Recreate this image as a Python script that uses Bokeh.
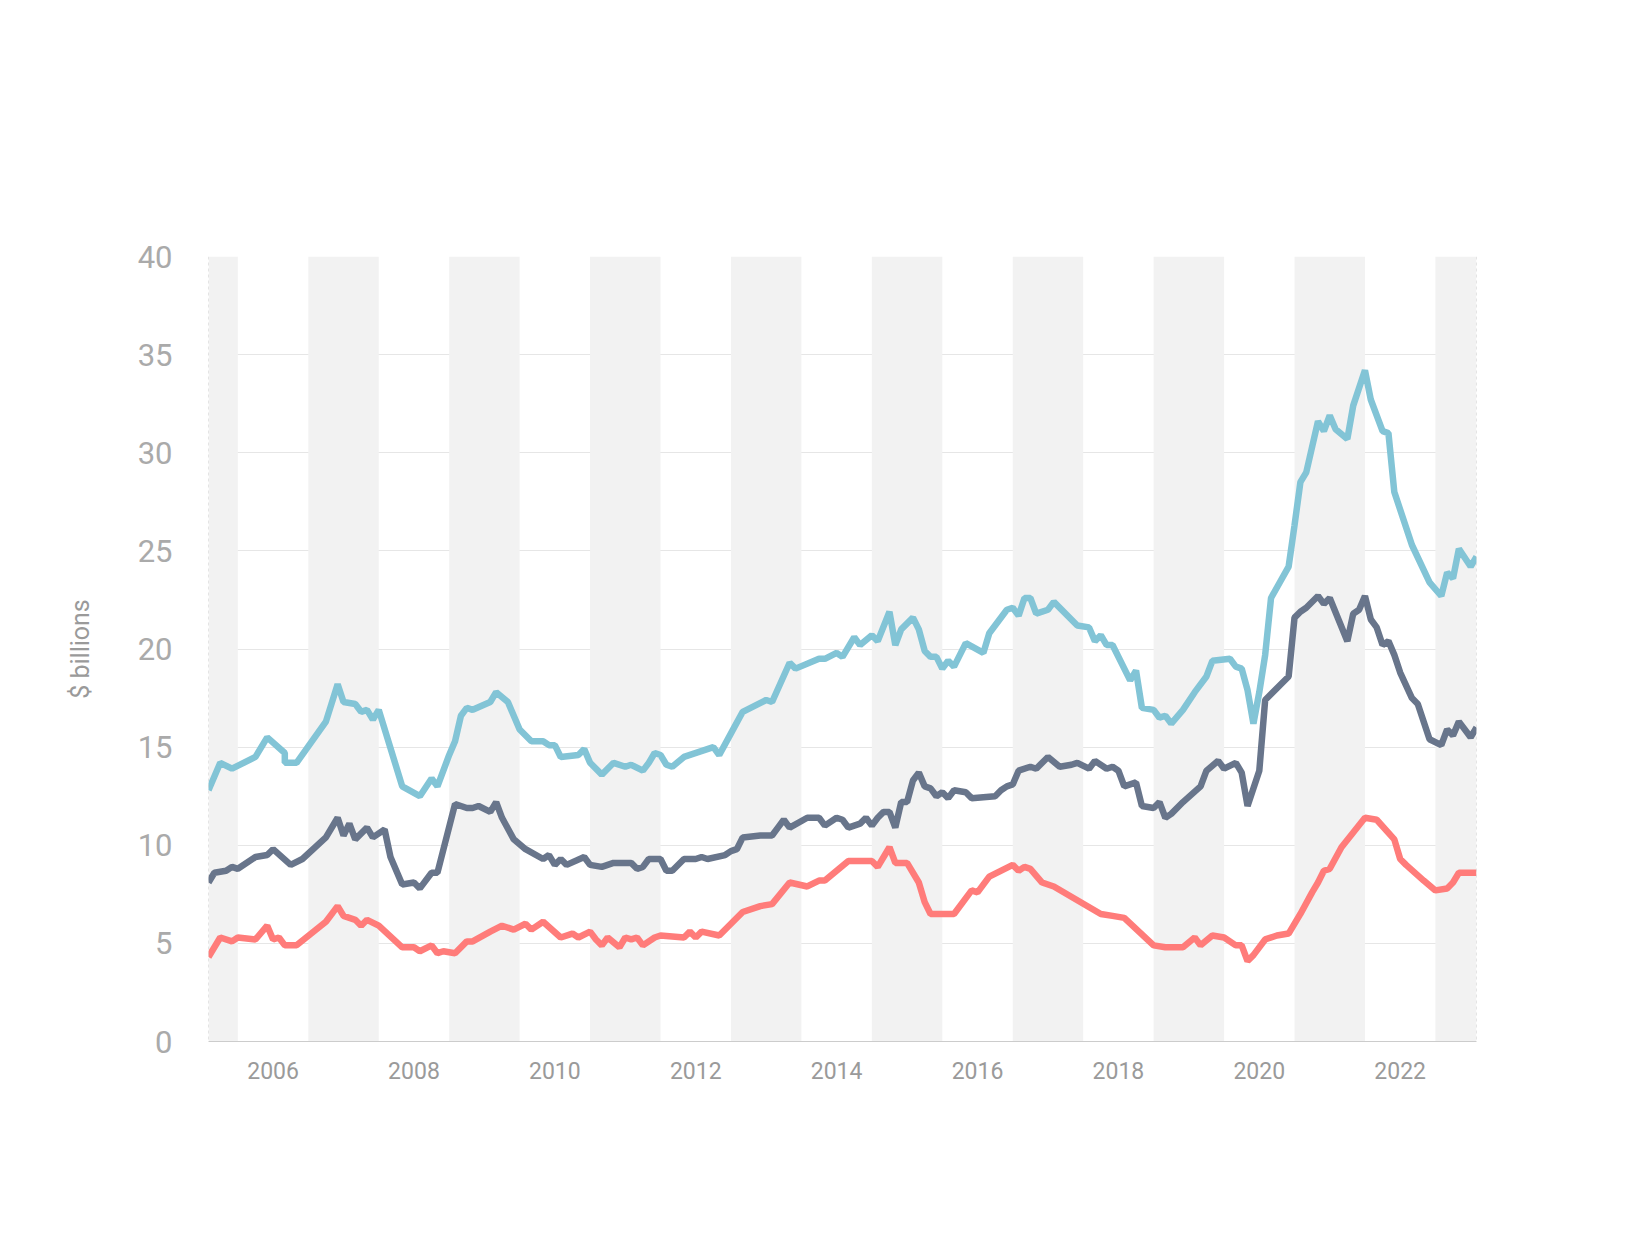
from bokeh.plotting import figure
from bokeh.models import (FixedTicker, BoxAnnotation, Span, Label, Range1d)
from bokeh.embed import file_html
from bokeh.resources import INLINE

# months since Aug 2005
total_m = [0,2,4,8,10,13,13,15,20,22,23,25,26,27,28,29,33,36,38,39,41,42,43,44,45,48,49,51,53,55,57,58,59,60,63,64,65,67,69,71,72,74,75,76,77,78,79,81,86,87,89,91,95,96,99,100,104,105,107,108,110,111,113,114,116,117,118,120,121,122,123,124,125,126,127,129,132,133,136,137,138,139,140,141,143,144,148,150,151,152,153,154,157,158,159,161,162,163,164,166,168,170,171,174,175,176,177,178,179,180,181,184,185,186,187,189,190,191,192,194,195,197,198,200,201,202,205,208,210,211,212,213,215,216]
total_v = [12.8,14.2,13.9,14.5,15.5,14.7,14.2,14.2,16.3,18.2,17.3,17.2,16.8,16.9,16.4,16.9,13.0,12.5,13.4,13.0,14.6,15.3,16.6,17.0,16.9,17.3,17.8,17.3,15.9,15.3,15.3,15.1,15.1,14.5,14.6,14.9,14.2,13.6,14.2,14.0,14.1,13.8,14.2,14.7,14.6,14.1,14.0,14.5,15.0,14.6,15.7,16.8,17.4,17.3,19.3,19.0,19.5,19.5,19.8,19.6,20.6,20.2,20.7,20.4,21.9,20.2,21.0,21.6,21.0,19.9,19.6,19.6,19.0,19.4,19.1,20.3,19.8,20.8,22.0,22.1,21.7,22.6,22.6,21.8,22.0,22.4,21.2,21.1,20.4,20.7,20.2,20.2,18.4,18.9,17.0,16.9,16.5,16.6,16.2,16.9,17.8,18.6,19.4,19.5,19.1,19.0,17.9,16.2,17.8,19.7,22.6,24.2,26.3,28.5,29.0,31.6,31.1,31.9,31.2,30.7,32.4,34.2,32.7,31.1,31.0,28.0,25.3,23.4,22.7,23.9,23.6,25.1,24.2,24.7]

owner_m = [0,1,3,4,5,8,10,11,14,16,20,22,23,24,25,27,28,30,31,33,35,36,38,39,42,44,45,46,48,49,50,52,54,57,58,59,60,61,64,65,67,69,72,73,74,75,77,78,79,81,83,84,85,88,89,90,91,94,96,97,98,99,102,104,105,107,108,109,111,112,113,114,115,116,117,118,119,120,121,122,123,124,125,126,127,129,130,134,135,136,137,138,140,141,143,145,147,148,150,151,153,154,155,156,158,159,161,162,163,164,166,169,170,172,173,175,176,177,179,180,184,185,186,187,189,190,191,194,195,196,197,198,199,200,201,202,203,205,206,208,210,211,212,213,215,216]
owner_v = [8.1,8.6,8.7,8.9,8.8,9.4,9.5,9.8,9.0,9.3,10.4,11.4,10.5,11.1,10.3,10.9,10.4,10.8,9.4,8.0,8.1,7.8,8.6,8.6,12.1,11.9,11.9,12.0,11.7,12.2,11.4,10.3,9.8,9.3,9.5,9.0,9.3,9.0,9.4,9.0,8.9,9.1,9.1,8.8,8.9,9.3,9.3,8.7,8.7,9.3,9.3,9.4,9.3,9.5,9.7,9.8,10.4,10.5,10.5,10.9,11.3,10.9,11.4,11.4,11.0,11.4,11.3,10.9,11.1,11.4,11.0,11.4,11.7,11.7,10.9,12.2,12.2,13.3,13.7,13.0,12.9,12.5,12.7,12.4,12.8,12.7,12.4,12.5,12.8,13.0,13.1,13.8,14.0,13.9,14.5,14.0,14.1,14.2,13.9,14.3,13.9,14.0,13.8,13.0,13.2,12.0,11.9,12.2,11.4,11.6,12.2,13.0,13.8,14.3,13.9,14.2,13.7,12.0,13.8,17.4,18.6,21.6,21.9,22.1,22.7,22.3,22.6,20.4,21.8,22.0,22.7,21.5,21.1,20.2,20.4,19.7,18.8,17.5,17.2,15.4,15.1,15.9,15.6,16.3,15.5,16.0]

inv_m = [0,2,4,5,8,10,11,12,13,15,20,22,23,25,26,27,29,33,35,36,38,39,40,42,44,45,48,50,52,54,55,57,60,62,63,65,66,67,68,70,71,72,73,74,76,77,81,82,83,84,87,91,94,96,99,102,104,105,109,113,114,116,117,119,121,122,123,127,130,131,133,137,138,139,140,142,144,152,154,156,161,163,166,168,169,171,173,175,176,177,178,180,182,184,186,188,189,190,191,193,197,199,202,203,204,207,209,211,212,213,216]
inv_v = [4.3,5.3,5.1,5.3,5.2,5.9,5.2,5.3,4.9,4.9,6.1,6.9,6.4,6.2,5.9,6.2,5.9,4.8,4.8,4.6,4.9,4.5,4.6,4.5,5.1,5.1,5.6,5.9,5.7,6.0,5.7,6.1,5.3,5.5,5.3,5.6,5.2,4.9,5.3,4.8,5.3,5.2,5.3,4.9,5.3,5.4,5.3,5.6,5.3,5.6,5.4,6.6,6.9,7.0,8.1,7.9,8.2,8.2,9.2,9.2,8.9,9.9,9.1,9.1,8.1,7.1,6.5,6.5,7.7,7.6,8.4,9.0,8.7,8.9,8.8,8.1,7.9,6.5,6.4,6.3,4.9,4.8,4.8,5.3,4.9,5.4,5.3,4.9,4.9,4.1,4.4,5.2,5.4,5.5,6.5,7.6,8.1,8.7,8.8,9.9,11.4,11.3,10.3,9.3,9.0,8.2,7.7,7.8,8.1,8.6,8.6]

series_names = ["Total", "Owner-occupier", "Investor"]
series_colors = ["#82c4d6", "#68758b", "#ff7c7a"]
year_ticks = [2006, 2008, 2010, 2012, 2014, 2016, 2018, 2020, 2022]
y_ticks = [0, 5, 10, 15, 20, 25, 30, 35, 40]

START = 2005 + 7 / 12
def to_x(ms):
    return [START + m / 12 for m in ms]

GREY = "#6b778c"
LIGHT = "#9a9a9a"
p = figure(frame_width=1268, frame_height=785, output_backend="svg", toolbar_location=None,
           x_range=Range1d(START, START + 18), y_range=Range1d(0, 40),
           min_border_left=208, min_border_right=140, min_border_top=256, min_border_bottom=180,
           background_fill_color="white")
p.outline_line_color = None

for yr in range(2005, 2024, 2):
    p.add_layout(BoxAnnotation(left=max(yr, START), right=min(yr + 1, START + 18),
                               fill_color="#f2f2f2", fill_alpha=1, line_color=None, level="underlay"))
for xx in [START, START + 18]:
    p.add_layout(Span(location=xx, dimension="height", line_color="#cccccc", line_dash="3 3", line_width=1))

for ms, vs, c in [(total_m, total_v, series_colors[0]), (owner_m, owner_v, series_colors[1]),
                  (inv_m, inv_v, series_colors[2])]:
    p.line(to_x(ms), vs, line_color=c, line_width=6.5)

# legend (dots + labels) above the plot frame
for name, c, dx, tx in zip(series_names, series_colors, [3.30, 7.26, 13.04], [3.72, 7.66, 13.42]):
    p.add_layout(Label(x=START + dx, y=42.55, text="●", text_align="center", text_baseline="middle",
                       text_font_size="26px", text_color=c, text_font="DejaVu Sans"))
    p.add_layout(Label(x=START + tx, y=42.55, text=name, text_align="left", text_baseline="middle",
                       text_font_size="26px", text_color=GREY, text_font="Roboto"))

p.add_layout(Label(x=START - 2.18, y=50.2, text="New loan commitments, total housing (a) seasonally adjusted, values, Australia",
                   text_align="left", text_baseline="middle", text_font_size="40px", text_color=GREY,
                   text_font="Roboto"))
p.add_layout(Label(x=START + 9.0, y=-4.9, text="a.  All series exclude refinancing", text_align="center",
                   text_baseline="middle", text_font_size="25px", text_color="#8a93a3",
                   text_font="Roboto", text_font_style="italic"))
p.add_layout(Label(x=START + 9.0, y=-7.1, text="Source: ABS", text_align="center",
                   text_baseline="middle", text_font_size="24px", text_color="#8a93a3", text_font="Roboto"))

p.xaxis.ticker = FixedTicker(ticks=[y + 0.5 for y in year_ticks])
p.xaxis.major_label_overrides = {y + 0.5: str(y) for y in year_ticks}
p.xaxis.major_label_text_font_size = "23px"
p.xaxis.major_label_text_color = LIGHT
p.xaxis.major_label_text_font = "Roboto"
p.xaxis.major_tick_line_color = None
p.xaxis.minor_tick_line_color = None
p.xaxis.axis_line_color = "#cccccc"
p.xaxis.major_label_standoff = 14

p.yaxis.ticker = FixedTicker(ticks=y_ticks)
p.yaxis.major_label_text_font_size = "31px"
p.yaxis.major_label_text_color = "#aaaaaa"
p.yaxis.major_label_text_font = "Roboto"
p.yaxis.axis_line_color = None
p.yaxis.major_tick_line_color = None
p.yaxis.minor_tick_line_color = None
p.yaxis.major_label_standoff = 30
p.yaxis.axis_label = "$ billions"
p.yaxis.axis_label_text_font_size = "25px"
p.yaxis.axis_label_text_color = LIGHT
p.yaxis.axis_label_text_font = "Roboto"
p.yaxis.axis_label_text_font_style = "normal"
p.yaxis.axis_label_standoff = 40

p.xgrid.grid_line_color = None
p.ygrid.grid_line_color = "#e6e6e6"

for xx, ln in [(START, "Aug 2005"), (START + 18, "Aug 2023")]:
    a, b = ln.split()
    p.add_layout(Label(x=xx, y=-3.4, text=a, text_align="center", text_baseline="middle",
                       text_font_size="20px", text_color=LIGHT, text_font="Roboto"))
    p.add_layout(Label(x=xx, y=-4.55, text=b, text_align="center", text_baseline="middle",
                       text_font_size="20px", text_color=LIGHT, text_font="Roboto"))

open("out.html", "w").write(file_html(p, INLINE))
